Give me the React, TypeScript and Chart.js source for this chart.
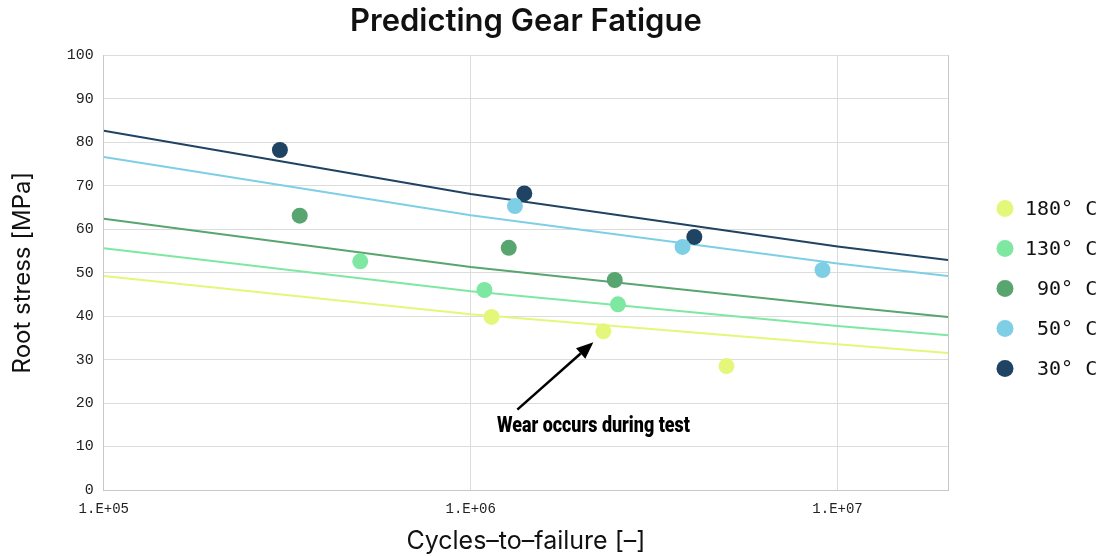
import { useEffect, useRef } from "react";
import { Chart, registerables } from "chart.js";

Chart.register(...registerables);

// ---- data ----
const seriesLabels = ["180° C", "130° C", "90° C", "50° C", "30° C"];
const seriesColors = ["#e4f77a", "#7ee8a2", "#58a570", "#7ecfe6", "#1f4362"];

const cycles180 = [1.14e6, 2.3e6, 4.98e6];
const stress180 = [39.8, 36.5, 28.5];
const cycles130 = [5.0e5, 1.09e6, 2.52e6];
const stress130 = [52.6, 46.0, 42.7];
const cycles90 = [3.42e5, 1.27e6, 2.47e6];
const stress90 = [63.1, 55.7, 48.3];
const cycles50 = [1.32e6, 3.78e6, 9.1e6];
const stress50 = [65.3, 55.9, 50.6];
const cycles30 = [3.02e5, 1.4e6, 4.07e6];
const stress30 = [78.2, 68.2, 58.2];

// trend lines read at these cycle counts
const trendCycles = [1e5, 1e6, 1e7, 2e7];
const trend180 = [49.2, 40.4, 33.5, 31.5];
const trend130 = [55.6, 45.7, 37.7, 35.6];
const trend90 = [62.4, 51.3, 42.3, 39.8];
const trend50 = [76.6, 63.2, 52.1, 49.2];
const trend30 = [82.6, 68.1, 56.0, 52.9];

const xTickValues = [1e5, 1e6, 1e7];
const xTickLabels = ["1.E+05", "1.E+06", "1.E+07"];
const xMin = 1e5;
const xMax = 2e7;
const yMin = 0;
const yMax = 100;
const yStep = 10;

const noteText = "Wear occurs during test";
const noteTail = { x: 1.34e6, y: 18.5 };
const noteTip = { x: 2.16e6, y: 34 };
const noteLabel = { x: 2.16e6, y: 14.9 };

const pointCycles = [cycles180, cycles130, cycles90, cycles50, cycles30];
const pointStress = [stress180, stress130, stress90, stress50, stress30];
const trendStress = [trend180, trend130, trend90, trend50, trend30];

const MONO = "'DejaVu Sans Mono', 'Liberation Mono', monospace";
const TICK_MONO = "'Liberation Mono', 'DejaVu Sans Mono', monospace";
const SANS = "Inter, 'Noto Sans', sans-serif";

const frameAndNotePlugin = {
  id: "frameAndNote",
  beforeDatasetsDraw(chart: any) {
    const { ctx, chartArea } = chart;
    ctx.save();
    ctx.strokeStyle = "#c8c8c8";
    ctx.lineWidth = 1;
    ctx.beginPath();
    ctx.moveTo(Math.round(chartArea.right) + 0.5, chartArea.top);
    ctx.lineTo(Math.round(chartArea.right) + 0.5, chartArea.bottom);
    ctx.stroke();
    ctx.restore();
  },
  afterDraw(chart: any) {
    const { ctx, chartArea, scales } = chart;
    const xs = scales.x;
    const ys = scales.y;
    // annotation arrow
    const tx = xs.getPixelForValue(noteTail.x);
    const ty = ys.getPixelForValue(noteTail.y);
    const hx = xs.getPixelForValue(noteTip.x);
    const hy = ys.getPixelForValue(noteTip.y);
    const ang = Math.atan2(hy - ty, hx - tx);
    const headLen = 17;
    const headHalf = 7;
    const bx = hx - headLen * Math.cos(ang);
    const by = hy - headLen * Math.sin(ang);
    ctx.save();
    ctx.strokeStyle = "#000";
    ctx.fillStyle = "#000";
    ctx.lineWidth = 2.5;
    ctx.beginPath();
    ctx.moveTo(tx, ty);
    ctx.lineTo(bx, by);
    ctx.stroke();
    ctx.beginPath();
    ctx.moveTo(hx, hy);
    ctx.lineTo(bx + headHalf * Math.sin(ang), by - headHalf * Math.cos(ang));
    ctx.lineTo(bx - headHalf * Math.sin(ang), by + headHalf * Math.cos(ang));
    ctx.closePath();
    ctx.fill();
    // condensed heavy label
    ctx.font = "900 22px Roboto, 'Noto Sans', sans-serif";
    ctx.textAlign = "center";
    ctx.textBaseline = "middle";
    const lx = xs.getPixelForValue(noteLabel.x);
    const ly = ys.getPixelForValue(noteLabel.y);
    const w = ctx.measureText(noteText).width;
    const sx = 193 / w;
    ctx.translate(lx, ly);
    ctx.scale(sx, 1);
    ctx.fillText(noteText, 0, 1);
    ctx.restore();

    // legend
    ctx.save();
    const midY = (chartArea.top + chartArea.bottom) / 2 + 16;
    const gap = 40;
    const n = seriesLabels.length;
    ctx.font = "20px " + MONO;
    ctx.textBaseline = "middle";
    ctx.textAlign = "left";
    for (let i = 0; i < n; i++) {
      const cy = midY + (i - (n - 1) / 2) * gap;
      const cx = chartArea.right + 57;
      ctx.fillStyle = seriesColors[i];
      ctx.beginPath();
      ctx.arc(cx, cy, 8.5, 0, Math.PI * 2);
      ctx.fill();
      ctx.fillStyle = "#111";
      ctx.fillText(seriesLabels[i].padStart(6, " "), cx + 20, cy + 1);
    }
    ctx.restore();
  },
};

export default function App() {
  const ref = useRef<HTMLCanvasElement | null>(null);

  useEffect(() => {
    if (!ref.current) return;
    const datasets: any[] = [];
    for (let i = 0; i < seriesLabels.length; i++) {
      datasets.push({
        type: "scatter",
        label: seriesLabels[i],
        data: pointCycles[i].map((c, j) => ({ x: c, y: pointStress[i][j] })),
        backgroundColor: seriesColors[i],
        borderColor: seriesColors[i],
        pointRadius: 8,
        pointHoverRadius: 8,
        borderWidth: 0,
        order: 0,
      });
    }
    for (let i = 0; i < seriesLabels.length; i++) {
      datasets.push({
        type: "line",
        label: seriesLabels[i] + " trend",
        data: trendCycles.map((c, j) => ({ x: c, y: trendStress[i][j] })),
        borderColor: seriesColors[i],
        backgroundColor: seriesColors[i],
        borderWidth: 2,
        pointRadius: 0,
        tension: 0,
        fill: false,
        order: 1,
      });
    }

    const chart = new Chart(ref.current, {
      type: "scatter",
      data: { datasets },
      options: {
        responsive: false,
        animation: false,
        layout: { padding: { left: 0, right: 169, top: 0, bottom: 0 } },
        plugins: {
          legend: { display: false },
          tooltip: { enabled: false },
          title: {
            display: true,
            text: "Predicting Gear Fatigue",
            fullSize: false,
            color: "#111",
            font: { family: SANS, size: 31, weight: 600 },
            padding: { top: 3, bottom: 15 },
          },
        },
        scales: {
          x: {
            type: "logarithmic",
            min: xMin,
            max: xMax,
            afterBuildTicks(scale: any) {
              scale.ticks = xTickValues.map((v) => ({ value: v }));
            },
            ticks: {
              autoSkip: false,
              maxRotation: 0,
              padding: 12.5,
              color: "#222",
              font: { family: TICK_MONO, size: 14, lineHeight: 1 },
              callback(value: any) {
                const idx = xTickValues.indexOf(Number(value));
                return idx >= 0 ? xTickLabels[idx] : "";
              },
            },
            grid: { color: "#dcdcdc", drawTicks: false },
            border: { color: "#c8c8c8" },
            title: {
              display: true,
              text: "Cycles–to–failure [–]",
              color: "#111",
              font: { family: SANS, size: 25, lineHeight: 1 },
              padding: { top: 0, bottom: 2 },
            },
          },
          y: {
            min: yMin,
            max: yMax,
            ticks: {
              stepSize: yStep,
              padding: 10,
              color: "#222",
              font: { family: TICK_MONO, size: 15 },
            },
            grid: { color: "#dcdcdc", drawTicks: false },
            border: { color: "#c8c8c8" },
            title: {
              display: true,
              text: "Root stress [MPa]",
              color: "#111",
              font: { family: SANS, size: 24 },
              padding: { top: 8, bottom: 20 },
            },
          },
        },
      },
      plugins: [frameAndNotePlugin],
    } as any);
    return () => chart.destroy();
  }, []);

  return (
    <div style={{ position: "absolute", left: 0, top: 0, width: 1117, height: 556, background: "#fff" }}>
      <canvas ref={ref} width={1117} height={556} style={{ display: "block" }} />
    </div>
  );
}
